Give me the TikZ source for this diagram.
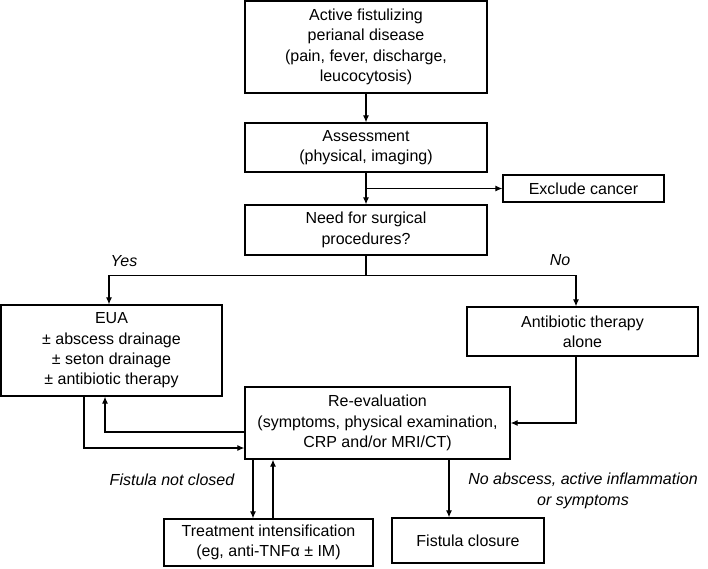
\documentclass[tikz,border=0pt]{standalone}
\usepackage{fontspec}
\setmainfont{Liberation Sans}
\usetikzlibrary{arrows.meta,calc}
\begin{document}
\begin{tikzpicture}[x=1pt,y=-1pt,
  every node/.style={font=\fontsize{16}{20.3}\selectfont},
  box/.style={draw, line width=1.3pt, align=center, inner sep=0pt, rectangle},
  arr/.style={draw, line width=1.1pt, -{Latex[length=7pt,width=6pt]}},
  ln/.style={draw, line width=1.1pt},
  lbl/.style={font=\fontsize{16}{20.3}\selectfont\itshape, align=center, inner sep=0pt}]
\useasboundingbox (0,0) rectangle (708,568);

\node[box, minimum width=242pt, minimum height=92pt] (b1) at (366,47)
  {Active fistulizing\\perianal disease\\(pain, fever, discharge,\\leucocytosis)};
\node[box, minimum width=242pt, minimum height=49pt] (b2) at (366,147.5)
  {Assessment\\(physical, imaging)};
\node[box, minimum width=242pt, minimum height=50pt] (b3) at (366,230)
  {Need for surgical\\procedures?};
\node[box, minimum width=161pt, minimum height=27pt] (exc) at (583.5,188.5)
  {Exclude cancer};
\node[box, minimum width=221pt, minimum height=91pt] (eua) at (111.5,350.5)
  {EUA\\± abscess drainage\\± seton drainage\\± antibiotic therapy};
\node[box, minimum width=231pt, minimum height=49pt] (anti) at (582.5,331.5)
  {Antibiotic therapy\\alone};
\node[box, minimum width=265pt, minimum height=72pt] (reev) at (377.5,423)
  {Re-evaluation\\(symptoms, physical examination,\\CRP and/or MRI/CT)};
\node[box, minimum width=209pt, minimum height=47pt] (treat) at (268.5,542.5)
  {Treatment intensification\\(eg, anti-TNFα ± IM)};
\node[box, minimum width=152pt, minimum height=45pt] (fist) at (468,540.5)
  {Fistula closure};

\node[lbl] (yes) at (124,261) {Yes};
\node[lbl] (no) at (560,260) {No};
\node[lbl] (fnc) at (172,480) {Fistula not closed};
\node[lbl] (noab) at (583,491) {No abscess, active inflammation\\or symptoms};

\coordinate (c1) at (253,0);
\coordinate (c2) at (273,0);
\coordinate (c3) at (449,0);
\coordinate (br) at (b2.south |- exc.west);
\coordinate (sp) at ($(b3.south)+(0,20)$);

\draw[arr] (b1.south) -- (b2.north);
\draw[arr] (b2.south) -- (b3.north);
\draw[arr] (br) -- (exc.west);
\draw[ln] (b3.south) -- (sp);
\draw[arr] (sp) -| ($(eua.north)+(-2.5,0)$);
\draw[arr] (sp) -| ($(anti.north)+(-6.5,0)$);
\draw[arr] ($(anti.south)+(-6.5,0)$) |- (reev.east);
\draw[arr] ($(eua.south)+(-27.5,0)$) |- ($(reev.west)+(0,25)$);
\draw[arr] ($(reev.west)+(0,9)$) -| ($(eua.south)+(-6.5,0)$);
\draw[arr] (reev.south -| c1) -- (treat.north -| c1);
\draw[arr] (treat.north -| c2) -- (reev.south -| c2);
\draw[arr] (reev.south -| c3) -- (fist.north -| c3);
\end{tikzpicture}
\end{document}
